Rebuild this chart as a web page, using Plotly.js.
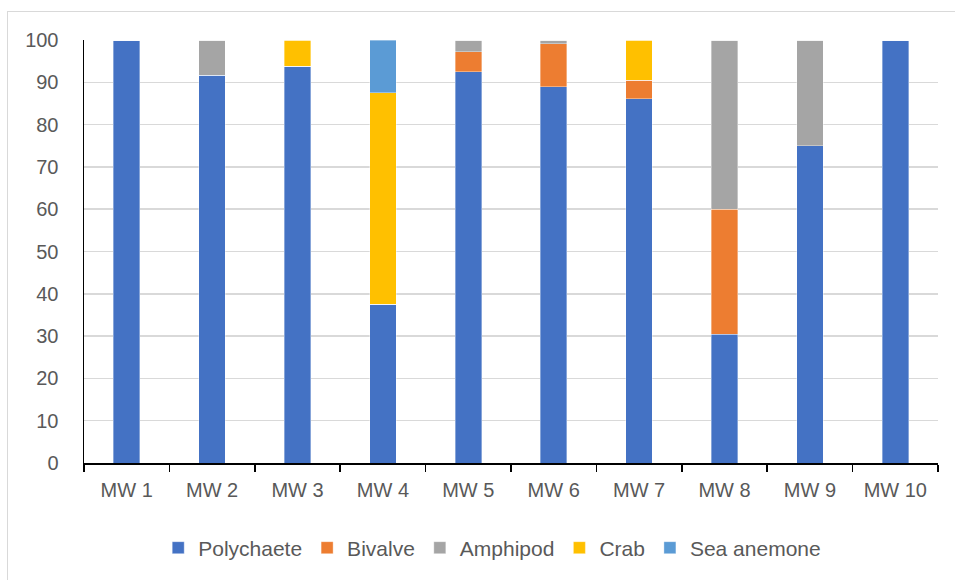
<!DOCTYPE html>
<html>
<head>
<meta charset="utf-8">
<script src="https://cdn.plot.ly/plotly-3.0.1.min.js"></script>
<style>
html,body{margin:0;padding:0;background:#fff;}
#wrap{position:relative;width:955px;height:580px;overflow:hidden;}
#frame{position:absolute;left:7px;top:11px;width:1000px;height:700px;border:1.5px solid #D9D9D9;box-sizing:border-box;}
#chart{position:absolute;left:0;top:0;width:955px;height:580px;}
</style>
</head>
<body>
<div id="wrap">
<div id="frame"></div>
<div id="chart"></div>
</div>
<script>
const categories = ["MW 1","MW 2","MW 3","MW 4","MW 5","MW 6","MW 7","MW 8","MW 9","MW 10"];
const polychaete = [100, 91.7, 93.8, 37.5, 92.5, 89.0, 86.1, 30.4, 75, 100];
const bivalve    = [0, 0, 0, 0, 4.7, 10.1, 4.4, 29.6, 0, 0];
const amphipod   = [0, 8.3, 0, 0, 2.8, 0.9, 0, 40, 25, 0];
const crab       = [0, 0, 6.2, 50, 0, 0, 9.5, 0, 0, 0];
const seaAnemone = [0, 0, 0, 12.5, 0, 0, 0, 0, 0, 0];
const seriesNames = ["Polychaete","Bivalve","Amphipod","Crab","Sea anemone"];
const seriesColors = ["#4472C4","#ED7D31","#A5A5A5","#FFC000","#5B9BD5"];
const seriesValues = [polychaete, bivalve, amphipod, crab, seaAnemone];

const traces = seriesValues.map((vals, i) => ({
  type: 'bar',
  name: seriesNames[i],
  x: categories,
  y: vals,
  marker: {color: seriesColors[i], line: {color: 'rgba(255,255,255,0.6)', width: 0.6}},
  hoverinfo: 'x+y+name'
}));

const font = {family: '"Liberation Sans", Arial, sans-serif', size: 20, color: '#595959'};
const legendFont = {family: '"Liberation Sans", Arial, sans-serif', size: 21, color: '#595959'};

const layout = {
  width: 955, height: 580,
  paper_bgcolor: 'rgba(0,0,0,0)',
  plot_bgcolor: 'rgba(0,0,0,0)',
  barmode: 'stack',
  bargap: 0.69,
  margin: {l: 84, r: 17, t: 40, b: 117},
  font: font,
  showlegend: true,
  legend: {
    orientation: 'h', x: 0.478, xanchor: 'center', y: -0.201, yanchor: 'middle',
    font: legendFont, traceorder: 'normal', itemwidth: 30, bgcolor: 'rgba(0,0,0,0)'
  },
  xaxis: {
    type: 'category',
    showline: true, linecolor: '#000', linewidth: 1.5,
    ticks: 'outside', tickson: 'boundaries', ticklen: 7, tickwidth: 1.5, tickcolor: '#000',
    ticklabelstandoff: 8,
    showgrid: false, zeroline: false,
    tickfont: font
  },
  yaxis: {
    range: [0, 100], dtick: 10, tick0: 0,
    showline: true, linecolor: '#000', linewidth: 1.5,
    ticks: '', ticklabelstandoff: 20,
    showgrid: true, gridcolor: '#D9D9D9', gridwidth: 1.5,
    zeroline: false,
    tickfont: font
  }
};

Plotly.newPlot('chart', traces, layout, {displayModeBar: false, staticPlot: true});
</script>
</body>
</html>
